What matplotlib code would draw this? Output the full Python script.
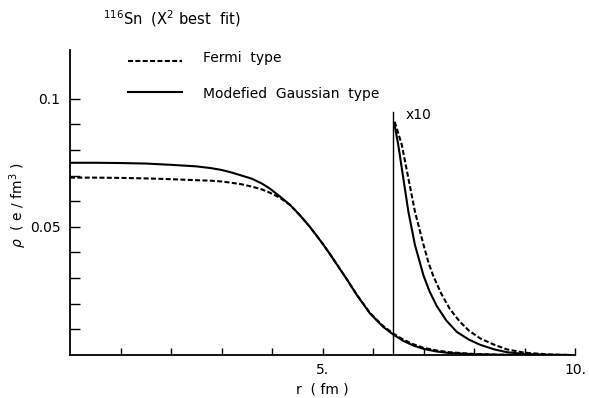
import numpy as np
import matplotlib as mpl
import matplotlib.pyplot as plt

# charge density of 116Sn, two fitted shapes (rho in e/fm^3, r in fm)
r_main = [0.0, 0.5, 1.0, 1.5, 2.0, 2.5, 2.8, 3.0, 3.2, 3.4, 3.6, 3.8, 3.96,
          4.16, 4.36, 4.55, 4.75, 5.0, 5.15, 5.35, 5.5, 5.68, 5.94, 6.2, 6.4,
          6.6, 6.8, 7.0, 7.25, 7.5, 8.0, 8.5, 9.0]
rho_gauss = [0.0750, 0.0750, 0.0749, 0.0747, 0.0742, 0.0736, 0.0729, 0.0722,
             0.0712, 0.0700, 0.0688, 0.0669, 0.0649, 0.0618, 0.0585, 0.0546,
             0.0500, 0.0435, 0.0393, 0.0334, 0.0290, 0.0234, 0.0162, 0.0110,
             0.0080, 0.0055, 0.0037, 0.0024, 0.0014, 0.0008, 0.0003, 0.0001,
             0.0]
rho_fermi = [0.0692, 0.0692, 0.0691, 0.0689, 0.0686, 0.0682, 0.0680, 0.0677,
             0.0672, 0.0666, 0.0657, 0.0646, 0.0633, 0.0613, 0.0585, 0.0546,
             0.0500, 0.0435, 0.0393, 0.0334, 0.0290, 0.0235, 0.0164, 0.0113,
             0.0084, 0.0060, 0.0042, 0.0028, 0.0018, 0.0011, 0.0004, 0.0001,
             0.0]

# outer tail, drawn magnified x10
r_tail_g = [6.42, 6.50, 6.60, 6.70, 6.83, 7.00, 7.12, 7.26, 7.45, 7.66, 7.90,
            8.12, 8.40, 8.65, 9.0, 9.5, 9.9]
tail_g = [0.0905, 0.082, 0.069, 0.056, 0.043, 0.031, 0.0248, 0.0192, 0.0135,
          0.0090, 0.0060, 0.0040, 0.0022, 0.0011, 0.0004, 0.0001, 0.0]
r_tail_f = [6.43, 6.57, 6.70, 6.83, 7.00, 7.10, 7.19, 7.35, 7.52, 7.72, 7.90,
            8.12, 8.40, 8.65, 9.0, 9.5, 9.9]
tail_f = [0.0910, 0.082, 0.069, 0.056, 0.043, 0.036, 0.031, 0.0240, 0.0180,
          0.0130, 0.0095, 0.0065, 0.0040, 0.0022, 0.0009, 0.0002, 0.0]
r_cut = 6.39

mpl.rcParams['lines.scale_dashes'] = False
dash = (0, (3.6, 1.7))

fig = plt.figure(figsize=(5.89, 3.98), dpi=100)
ax = fig.add_axes([70 / 589, 43 / 398, 505 / 589, 305 / 398])

ax.plot(r_main, rho_gauss, color='black', lw=1.5)
ax.plot(r_main, rho_fermi, color='black', lw=1.5, linestyle=dash)
ax.plot(r_tail_g, tail_g, color='black', lw=1.5)
ax.plot(r_tail_f, tail_f, color='black', lw=1.5, linestyle=dash)
ax.plot([r_cut, r_cut], [0, 0.095], color='black', lw=1.0)
ax.text(6.65, 0.0935, 'x10', fontsize=10, ha='left', va='center')

ax.set_xlim(0, 10)
ax.set_ylim(0, 0.119)
ax.spines['top'].set_visible(False)
ax.spines['right'].set_visible(False)
ax.spines['left'].set_linewidth(1.3)
ax.spines['bottom'].set_linewidth(1.3)

ax.set_xticks(np.arange(1, 11))
ax.set_xticklabels(['', '', '', '', '5.', '', '', '', '', '10.'])
ax.set_yticks(np.arange(1, 11) * 0.01)
ax.set_yticklabels(['', '', '', '', '0.05', '', '', '', '', '0.1'])
ax.tick_params(axis='x', direction='in', length=5, width=1, labelsize=10, pad=6)
ax.tick_params(axis='y', direction='in', length=7, width=1, labelsize=10, pad=7)

ax.set_xlabel('r  ( fm )', fontsize=10, labelpad=4)
ax.set_ylabel(r'$\rho$  ( e / fm$^3$ )', fontsize=10)
ax.yaxis.set_label_coords(-0.081, 0.49)

# legend drawn by hand
ax.plot([0.115, 0.222], [0.963, 0.963], transform=ax.transAxes, color='black',
        lw=1.5, linestyle=dash, clip_on=False)
ax.plot([0.115, 0.222], [0.862, 0.862], transform=ax.transAxes, color='black',
        lw=1.5, clip_on=False)
ax.text(0.263, 0.973, 'Fermi  type', transform=ax.transAxes, fontsize=10,
        va='center')
ax.text(0.263, 0.857, 'Modefied  Gaussian  type', transform=ax.transAxes,
        fontsize=10, va='center')

fig.text(103 / 589, 1 - 19 / 398, r'$^{116}$Sn  (X$^2$ best  fit)',
         fontsize=10.5, va='center')

fig.savefig('out.png', dpi=100)
